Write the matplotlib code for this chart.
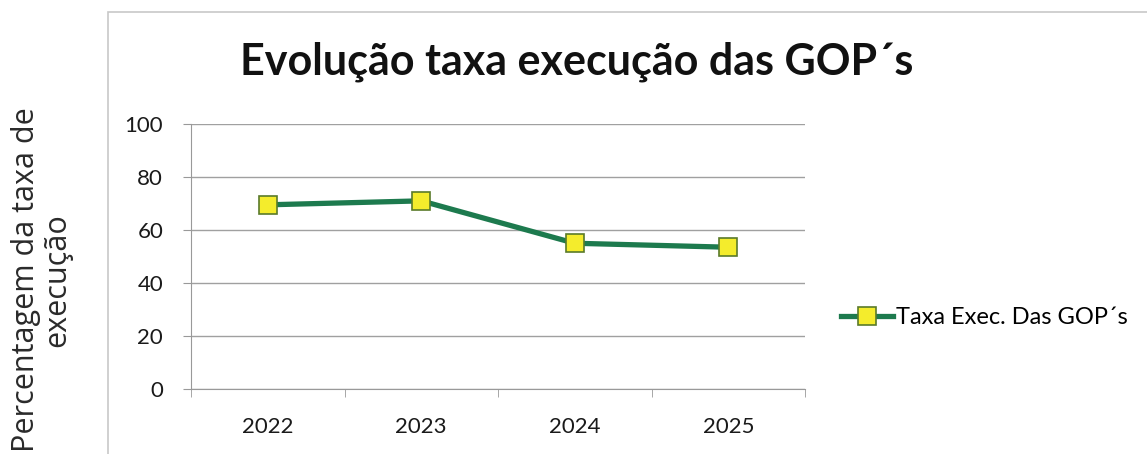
import matplotlib
matplotlib.use("Agg")
import matplotlib.pyplot as plt
from matplotlib.patches import Rectangle

years = ["2022", "2023", "2024", "2025"]
taxa_exec = [69.5, 71, 55, 53.5]
series_label = "Taxa Exec. Das GOP\u00b4s"
title = "Evolução taxa execução das GOP\u00b4s"
ylabel = "Percentagem da taxa de\nexecução"

plt.rcParams["font.family"] = ["Lato", "DejaVu Sans"]

W, H = 1147, 454
fig = plt.figure(figsize=(W / 100, H / 100), dpi=100)

# chart frame (extends past the right and bottom edges)
fig.patches.append(Rectangle((108 / W, -0.2), 1.2, 1 - 12 / H + 0.2,
                             transform=fig.transFigure, fill=False,
                             edgecolor="#c8c8c8", linewidth=1.2))

ax = fig.add_axes([191 / W, 1 - 389 / H, (805 - 191) / W, (389 - 124) / H])
x = list(range(len(years)))
ax.plot(x, taxa_exec, color="#1d7a4e", linewidth=3.8, marker="s",
        markersize=13, markerfacecolor="#f4ec2c", markeredgecolor="#5a7a2a",
        markeredgewidth=1.2, label=series_label)

ax.set_xlim(-0.5, 3.5)
ax.set_ylim(0, 100)
ax.set_yticks(range(0, 101, 20))
ax.set_xticks(x)
ax.set_xticklabels(years)
ax.set_xticks([i - 0.5 for i in range(5)], minor=True)
ax.tick_params(axis="x", which="major", length=0, pad=20, labelsize=16,
               labelcolor="#1a1a1a")
ax.tick_params(axis="x", which="minor", length=6, color="#999999", direction="out")
ax.tick_params(axis="y", length=6, color="#999999", labelsize=16, pad=14,
               labelcolor="#1a1a1a")
ax.grid(axis="y", color="#a0a0a0", linewidth=1)
ax.set_axisbelow(True)
for s in ["top", "right"]:
    ax.spines[s].set_visible(False)
for s in ["left", "bottom"]:
    ax.spines[s].set_color("#999999")

fig.text(0.503, 1 - 62 / H, title, ha="center", va="center",
         fontsize=31, fontweight="bold", color="#111111")
fig.text(42 / W, 1 - 280 / H, ylabel, rotation=90, ha="center", va="center",
         multialignment="center", fontsize=22, color="#2a2a2a",
         family=["Open Sans", "DejaVu Sans"], linespacing=1.05)

fig.legend(loc="center left", bbox_to_anchor=(832 / W, 1 - 318 / H),
           frameon=False, fontsize=17, handlelength=2.2, handletextpad=0.1,
           borderaxespad=0)

fig.savefig("out.png", dpi=100)
